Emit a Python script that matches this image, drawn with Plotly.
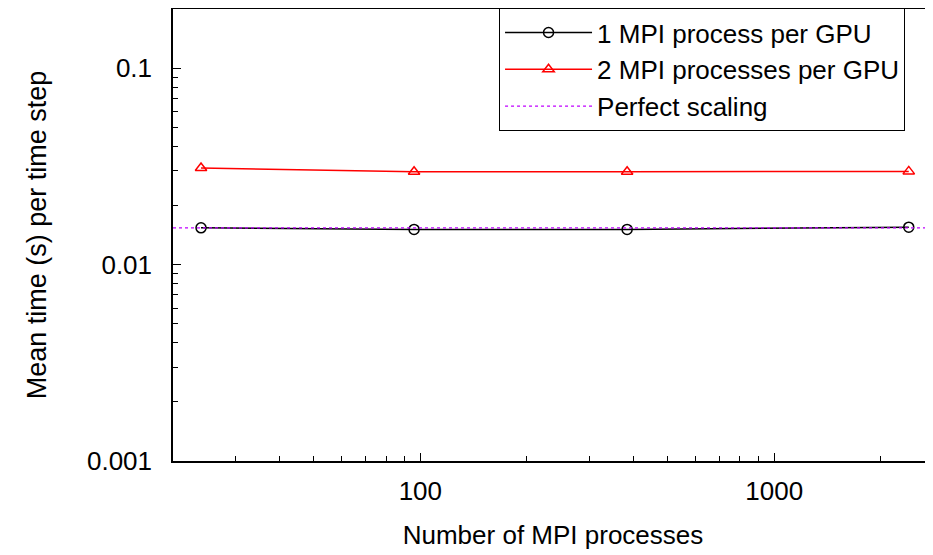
import plotly.graph_objects as go
import numpy as np

# Data
mpi_procs = [24, 96, 384, 2400]
one_per_gpu = [0.01538, 0.0151, 0.0151, 0.0155]
two_per_gpu = [0.0310, 0.0297, 0.0297, 0.0298]
perfect_x = [20, 2810]
perfect_y = [0.01538, 0.01538]

x_range = [20, 2810]
y_range = [0.001, 0.2]
y_tickvals = [0.001, 0.01, 0.1]
y_ticktext = ["0.001", "0.01", "0.1"]
y_minor = [0.002, 0.003, 0.004, 0.005, 0.006, 0.007, 0.008, 0.009,
           0.02, 0.03, 0.04, 0.05, 0.06, 0.07, 0.08, 0.09, 0.2]
x_tickvals = [100, 1000]
x_ticktext = ["100", "1000"]
x_minor = [30, 40, 50, 60, 70, 80, 90,
           200, 300, 400, 500, 600, 700, 800, 900, 2000]

FONT = "Liberation Sans, Arial, Helvetica, sans-serif"

fig = go.Figure()
fig.add_trace(go.Scatter(
    x=mpi_procs, y=one_per_gpu, mode="lines+markers",
    name="1 MPI process per GPU",
    line=dict(color="black", width=1.5),
    marker=dict(symbol="circle-open", size=10, color="black", line=dict(width=1.5)),
))
fig.add_trace(go.Scatter(
    x=mpi_procs, y=two_per_gpu, mode="lines+markers",
    name="2 MPI processes per GPU",
    line=dict(color="red", width=1.5),
    marker=dict(symbol="triangle-up-open", size=10, color="red", line=dict(width=1.5)),
))
fig.add_trace(go.Scatter(
    x=perfect_x, y=perfect_y, mode="lines",
    name="Perfect scaling",
    line=dict(color="#c000ff", width=1.2, dash="dot"),
))

fig.update_layout(
    width=925, height=547,
    margin=dict(l=165, r=0, t=1, b=94),
    paper_bgcolor="white", plot_bgcolor="white",
    font=dict(family=FONT, size=26, color="black"),
    showlegend=True,
    legend=dict(
        x=0.429, y=1.002, xanchor="left", yanchor="top",
        bordercolor="black", borderwidth=1, bgcolor="white",
        font=dict(size=26), itemwidth=87, tracegroupgap=0,
        entrywidth=450,
    ),
    xaxis=dict(
        type="log", range=[np.log10(x_range[0]), np.log10(x_range[1])],
        tickvals=x_tickvals, ticktext=x_ticktext,
        ticks="inside", ticklen=8, tickwidth=1, tickcolor="black",
        minor=dict(tickvals=x_minor, ticks="inside", ticklen=5, tickcolor="black", showgrid=False),
        showline=True, linecolor="black", linewidth=1.5, mirror=True,
        showgrid=False, zeroline=False, automargin=False,
        title=dict(text="Number of MPI processes", standoff=21, font=dict(size=26)),
        ticklabelstandoff=6,
    ),
    yaxis=dict(
        type="log", range=[np.log10(y_range[0]), np.log10(y_range[1])],
        tickvals=y_tickvals, ticktext=y_ticktext,
        ticks="inside", ticklen=8, tickwidth=1, tickcolor="black",
        minor=dict(tickvals=y_minor, ticks="inside", ticklen=5, tickcolor="black", showgrid=False),
        showline=True, linecolor="black", linewidth=1.5,
        showgrid=False, zeroline=False, automargin=False,
        title=dict(text="Mean time (s) per time step", standoff=33, font=dict(size=27)),
        ticklabelstandoff=14,
    ),
)

fig.write_html("out.html")
